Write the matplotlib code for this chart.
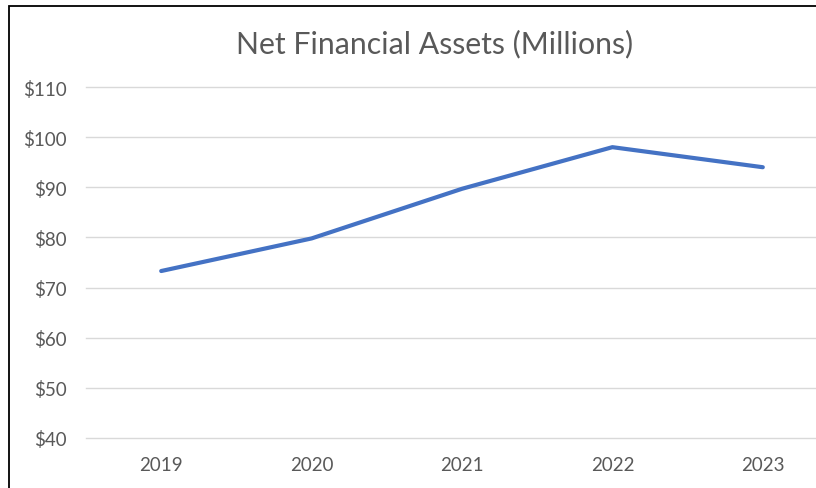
import matplotlib
matplotlib.use("Agg")
import matplotlib.pyplot as plt
from matplotlib.patches import Rectangle

years = ["2019", "2020", "2021", "2022", "2023"]
assets = [73.3, 79.8, 89.7, 98.0, 94.0]
y_ticks = [40, 50, 60, 70, 80, 90, 100, 110]
title = "Net Financial Assets (Millions)"

W, H = 816, 489
plt.rcParams['font.family'] = ['Lato', 'DejaVu Sans']

fig = plt.figure(figsize=(W / 100, H / 100), dpi=100)

# axes positioned in pixel terms; right edge runs past the image like the cropped source
ax = fig.add_axes([86 / W, 1 - 439 / H, (838 - 86) / W, (439 - 88) / H])
ax.plot(range(len(years)), assets, color='#4472C4', linewidth=3.0,
        solid_capstyle='round', solid_joinstyle='round', zorder=3)

ax.set_xlim(-0.5, len(years) - 0.5)
ax.set_ylim(40, 110)
ax.set_xticks(range(len(years)))
ax.set_xticklabels(years)
ax.set_yticks(y_ticks)
ax.set_yticklabels([f"${t}" for t in y_ticks])
ax.tick_params(axis='both', length=0, labelsize=13.5, labelcolor='#595959')
ax.tick_params(axis='y', pad=14)
ax.tick_params(axis='x', pad=13)
ax.grid(axis='y', color='#D9D9D9', linewidth=1.0)
for g in ax.yaxis.get_gridlines():
    g.set_clip_on(False)
ax.set_axisbelow(True)
for s in ax.spines.values():
    s.set_visible(False)

fig.text(435 / W, 1 - 44 / H, title, ha='center', va='center',
         fontsize=21.8, color='#595959')

# chart frame (only top and left edges visible in the crop)
fig.patches.append(Rectangle((9 / W, -0.1), 1.2, 1 - 6.5 / H + 0.1,
                             transform=fig.transFigure, fill=False,
                             edgecolor='black', linewidth=1.3))

fig.savefig("out.png", dpi=100)
